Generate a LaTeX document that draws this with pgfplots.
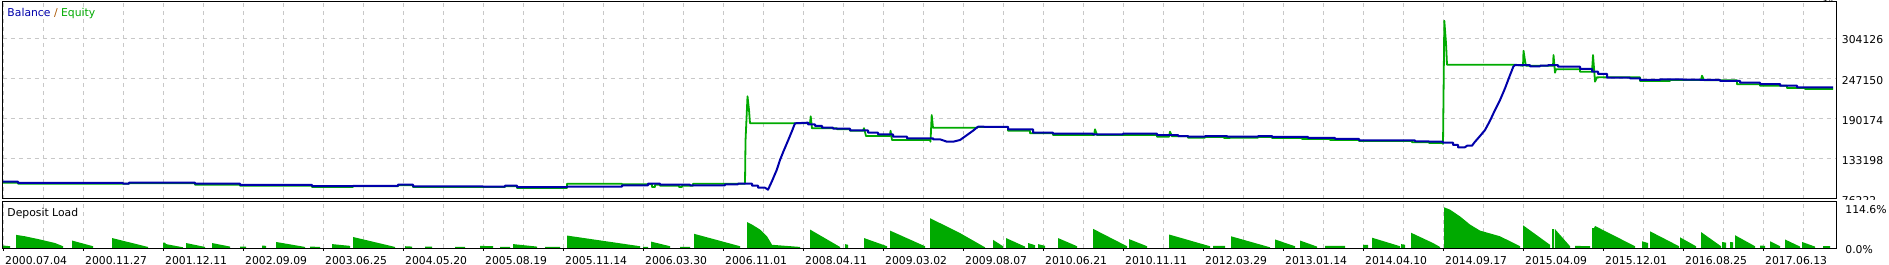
\documentclass[border=0pt]{standalone}
\usepackage{fontspec}
\setmainfont{DejaVu Sans}
\usepackage{pgfplots}
\pgfplotsset{compat=1.18}
\definecolor{bal}{RGB}{0,0,170}
\definecolor{eq}{RGB}{0,170,0}
\definecolor{slashc}{RGB}{170,85,0}
\definecolor{gridc}{RGB}{200,200,200}
\begin{document}
\fontsize{10.8bp}{13bp}\selectfont
\begin{tikzpicture}
\useasboundingbox (0,0) rectangle (1889bp,265bp);
\pgfplotsset{
  myaxis/.style={
    scale only axis, width=1834bp, xmin=2.5, xmax=1836.5,
    axis line style={black, line width=1bp},
    grid style={gridc, line width=1bp, dash pattern=on 4bp off 4bp},
    xtick={3.3,83.3,...,1763.3},
    minor xtick={43.3,123.3,...,1803.3},
    xmajorgrids, xminorgrids,
    minor tick length=0pt,
    ytick style={draw=none},
    yticklabel pos=right,
    tick label style={font=\fontsize{10.8bp}{13bp}\selectfont, inner sep=0pt},
    clip=true,
  }
}
\begin{axis}[myaxis, at={(2.5bp,66bp)}, anchor=south west, height=197bp,
  ymin=76222, ymax=355430,
  ytick={76222,133198,190174,247150,304126},
  yticklabels={76222,133198,190174,247150,304126},
  ymajorgrids,
  xticklabels={}, major tick length=0pt,
  yticklabel style={anchor=base west, xshift=5.2bp, yshift=-5.7bp},
]
\addplot[eq, line width=1.8bp, line join=round] coordinates {
(3,99300)(18,99300)(18,97900)(123,97900)(129,97900)(129,98600)(195,98600)(195,96500)(240,96500)(240,95100)(312,95100)(312,93200)(353,93200)(353,94200)(398,94200)(398,95600)(413,95600)(413,93200)(505,93200)(505,94200)(517,94200)(517,91800)(567,91800)(567,97900)(622,97900)(622,97100)(652,97100)(652,93200)(655,93200)(655,96500)(660,96500)(660,95100)(679,95100)(679,93200)(682,93200)(682,95100)(693,95100)(693,97900)(745,97900)(745.5,158400)(747.5,221800)(749,202400)(750,183500)(795,183500)(810,183500)(810.7,193400)(812,176400)(837,176400)(837,175000)(850,175000)(850,173000)(863,173000)(864,176600)(866,165500)(890,165500)(890.5,173000)(892,159800)(930,159800)(930.5,157400)(931.7,195300)(933,177300)(977,177300)(978,178300)(1008,178300)(1008,173000)(1030,173000)(1030,169300)(1053,169300)(1053,166900)(1094,166900)(1095,175000)(1097,166900)(1157,166900)(1157,164500)(1169,164500)(1170,171600)(1172,165100)(1188,165100)(1188,163100)(1205,163100)(1205,164100)(1224,164100)(1224,162700)(1230,162700)(1230,163100)(1258,163100)(1258,164100)(1272,164100)(1272,162700)(1302,162700)(1302,161300)(1330,161300)(1330,159800)(1359,159800)(1359,158400)(1412,158400)(1412,156600)(1429,156600)(1429,155600)(1443,155600)(1443,154200)(1444.3,328900)(1446,296900)(1447,266600)(1515,266600)(1523,265100)(1523.5,286400)(1525,272200)(1526,265100)(1553,265100)(1553.5,280300)(1555,255200)(1556,260000)(1580,260000)(1580,256600)(1592,256600)(1593,280300)(1595,242500)(1597,248700)(1640,248700)(1640,243500)(1670,243500)(1670,244900)(1701,244900)(1702,251000)(1704,244500)(1737,244500)(1737,238800)(1760,238800)(1760,236800)(1787,236800)(1787,233500)(1805,233500)(1805,232100)(1833,232100)
};
\addplot[bal, line width=2bp, line join=round] coordinates {
(3,100700)(18,100700)(18,98900)(123,98900)(123,97900)(129,97900)(129,99300)(195,99300)(195,97900)(240,97900)(240,96100)(312,96100)(312,94600)(353,94600)(353,94900)(398,94900)(398,96500)(413,96500)(413,94200)(483,94200)(483,93700)(505,93700)(505,95100)(517,95100)(517,93200)(567,93200)(567,93700)(622,93700)(622,95600)(648,95600)(648,97900)(660,97900)(660,96500)(690,96500)(690,95600)(725,95600)(725,97100)(738,97100)(738,97900)(752,97900)(752,95100)(758,95100)(758,92200)(765,92200)(768,89400)(771.7,100700)(776.7,117300)(780,131500)(783.3,143300)(788.3,159900)(791.7,171600)(795,183500)(808,184400)(808,182100)(815,182100)(815,179700)(822,179700)(822,177300)(833,177300)(833,175900)(850,175900)(850,173600)(868,173600)(868,170200)(878,170200)(878,167900)(893,167900)(893,164500)(907,164500)(907,162300)(933,162300)(933,160800)(940,160800)(947,157400)(953,157400)(960,159800)(967,166900)(973,173000)(978,178700)(1008,178300)(1008,175000)(1033,175000)(1033,170200)(1053,170200)(1053,168800)(1093,168800)(1093,167900)(1123,167900)(1123,168800)(1157,168800)(1157,166900)(1178,166900)(1178,165500)(1188,165500)(1188,164500)(1205,164500)(1205,165500)(1227,165500)(1227,164500)(1258,164500)(1258,165500)(1272,165500)(1272,164100)(1308,164100)(1308,162700)(1335,162700)(1335,161300)(1359,161300)(1359,159400)(1415,159400)(1415,158000)(1429,158000)(1429,157400)(1443,157400)(1443,156000)(1453,156000)(1453,152800)(1458,152800)(1458,149500)(1465,149500)(1467,151800)(1472,151800)(1475,157400)(1480,165500)(1485,174000)(1490,187200)(1495,202400)(1500,216500)(1505,233100)(1510,251900)(1513.3,263700)(1515,266100)(1530,266100)(1530,264300)(1540,264300)(1540,265100)(1548,265100)(1548,266100)(1558,266100)(1558,263700)(1580,263700)(1580,260500)(1592,260500)(1592,256600)(1598,256600)(1598,253400)(1607,253400)(1607,248100)(1630,248100)(1630,247300)(1640,247300)(1640,244900)(1660,244900)(1660,245900)(1683,245900)(1683,245300)(1700,245300)(1700,244900)(1720,244900)(1720,243500)(1740,243500)(1740,241100)(1760,241100)(1760,239200)(1780,239200)(1780,236800)(1797,236800)(1797,234500)(1833,234500)
};
\end{axis}
\fill[white] (1837.5bp,59.5bp) rectangle (1889bp,64.6bp);
\begin{axis}[myaxis, at={(2.5bp,17bp)}, anchor=south west, height=46.5bp,
  ymin=0, ymax=130.9,
  ytick={0}, yticklabels={0.0\%},
  extra y ticks={114.6}, extra y tick labels={114.6\%},
  extra y tick style={yticklabel style={yshift=-1.7bp}},
  yticklabel style={anchor=base west, xshift=6.2bp, yshift=-5bp},
  xtick pos=left, tick align=outside, major tick length=2.5bp,
  xtick style={black, line width=1bp},
  xticklabels={2000.07.04,2000.11.27,2001.12.11,2002.09.09,2003.06.25,2004.05.20,2005.08.19,2005.11.14,2006.03.30,2006.11.01,2008.04.11,2009.03.02,2009.08.07,2010.06.21,2010.11.11,2012.03.29,2013.01.14,2014.04.10,2014.09.17,2015.04.09,2015.12.01,2016.08.25,2017.06.13},
  xticklabel style={anchor=base west, xshift=1.7bp, yshift=-13.5bp},
]
\addplot[fill=eq, draw=none] coordinates {
(3,0)(3,7)(10,5)(10,0)
(16,0)(16,37)(25,33)(40,24)(55,14)(63,5)(63,0)
(72,0)(72,21)(93,5)(93,0)
(112,0)(112,28)(148,3)(148,0)
(163,0)(163,15)(165,15)(166,11)(183,2)(183,0)
(186,0)(186,14)(205,3)(205,0)
(212,0)(212,14)(230,4)(230,0)
(240,0)(240,4)(246,4)(246,0)
(262,0)(262,7)(266,6)(266,0)
(276,0)(276,17)(305,3)(305,0)
(310,0)(310,4)(320,3)(320,0)
(332,0)(332,11)(350,6)(350,0)
(353,0)(353,31)(395,3)(395,0)
(405,0)(405,5)(412,4)(412,0)
(425,0)(425,4)(432,4)(432,0)
(455,0)(455,3)(465,3)(465,0)
(480,0)(480,6)(493,5)(493,0)
(500,0)(500,3)(510,3)(510,0)
(513,0)(513,11)(537,4)(537,0)
(545,0)(545,3)(560,3)(560,0)
(567,0)(567,35)(640,5)(640,0)
(643,0)(643,3)(648,3)(648,0)
(651,0)(651,18)(670,5)(670,0)
(680,0)(680,3)(690,3)(690,0)
(694,0)(694,40)(740,5)(740,0)
(747,0)(747,73)(752,66)(760,52)(767,33)(771,14)(772,9)(800,3)(800,0)
(810,0)(810,52)(840,3)(840,0)
(845,0)(845,11)(848,9)(848,0)
(864,0)(864,28)(887,5)(887,0)
(890,0)(890,49)(925,5)(925,0)
(930,0)(930,84)(960,42)(985,2)(985,0)
(993,0)(993,23)(1003,5)(1003,0)
(1006,0)(1006,28)(1025,4)(1025,0)
(1028,0)(1028,14)(1035,8)(1035,0)
(1038,0)(1038,11)(1045,6)(1045,0)
(1058,0)(1058,28)(1077,5)(1077,0)
(1093,0)(1093,54)(1127,5)(1127,0)
(1129,0)(1129,25)(1147,5)(1147,0)
(1169,0)(1169,38)(1210,5)(1210,0)
(1213,0)(1213,6)(1225,6)(1225,0)
(1231,0)(1231,33)(1270,2)(1270,0)
(1275,0)(1275,24)(1295,5)(1295,0)
(1300,0)(1300,21)(1317,4)(1317,0)
(1325,0)(1325,6)(1345,6)(1345,0)
(1363,0)(1363,9)(1368,9)(1368,0)
(1372,0)(1372,29)(1400,5)(1400,0)
(1401,0)(1401,11)(1405,9)(1405,0)
(1411,0)(1411,43)(1433,14)(1440,3)(1440,0)
(1444,0)(1444,114.6)(1450,108)(1460,89)(1470,66)(1480,49)(1500,33)(1520,5)(1520,0)
(1523,0)(1523,64)(1550,9)(1550,0)
(1552,0)(1552,53)(1554,53)(1554,0)(1555,0)(1555,53)(1570,5)(1570,0)
(1575,0)(1575,6)(1590,5)(1590,0)
(1592,0)(1592,56)(1594,56)(1595,62)(1635,5)(1635,0)
(1642,0)(1642,19)(1648,14)(1648,0)
(1650,0)(1650,47)(1679,5)(1679,0)
(1680,0)(1680,30)(1696,5)(1696,0)
(1701,0)(1701,45)(1721,5)(1721,0)
(1722,0)(1722,17)(1726,15)(1726,0)
(1730,0)(1730,17)(1733,16)(1733,0)
(1735,0)(1735,36)(1755,5)(1755,0)
(1760,0)(1760,7)(1765,6)(1765,0)
(1770,0)(1770,19)(1780,5)(1780,0)
(1785,0)(1785,24)(1800,4)(1800,0)
(1802,0)(1802,17)(1815,4)(1815,0)
(1823,0)(1823,5)(1830,5)(1830,0)
} \closedcycle;
\end{axis}
\node[anchor=base west, inner sep=0pt] at (7.3bp,248.3bp) {\textcolor{bal}{Balance} \textcolor{slashc}{/} \textcolor{eq}{Equity}};
\node[anchor=base west, inner sep=0pt] at (7.3bp,48.7bp) {Deposit Load};
\end{tikzpicture}
\end{document}
